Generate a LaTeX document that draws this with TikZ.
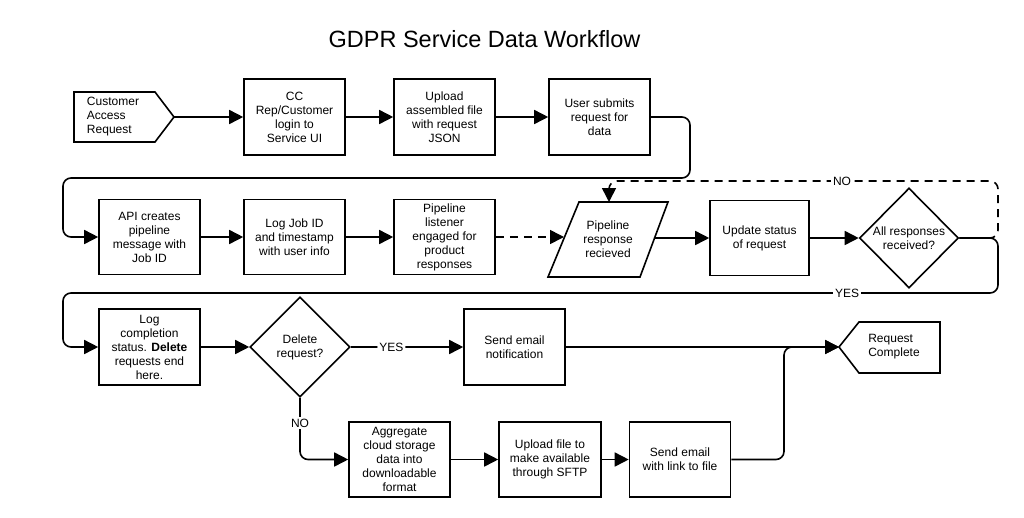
\documentclass[tikz,border=0pt]{standalone}
\usepackage{fontspec}
\setmainfont{Liberation Sans}
\usetikzlibrary{arrows.meta,shapes.geometric}
\begin{document}
\begin{tikzpicture}[x=1pt,y=-1pt,
  every node/.style={font=\fontsize{12}{14}\selectfont, align=center},
  box/.style={draw, line width=1.6pt, minimum width=101pt, minimum height=76pt, inner sep=0pt},
  dia/.style={draw, diamond, line width=1.6pt, inner sep=0pt, minimum width=99pt, minimum height=100pt},
  outline/.style={draw, line width=1.6pt, line join=miter},
  conn/.style={line width=1.6pt, rounded corners=8pt},
  arr/.style={conn, -{Triangle[length=14pt,width=14pt]}},
  dsh/.style={dash pattern=on 8pt off 6pt},
  lbl/.style={fill=white, inner sep=2pt},
]
\useasboundingbox (0,0) rectangle (1024,517);

\node (title) at (484.5,39) {\fontsize{23.5}{28}\selectfont GDPR Service Data Workflow};

% Row 1
\draw[outline] (74,92) -- (155,92) -- (174,117) -- (155,142) -- (74,142) -- cycle;
\node[align=left] (cust) at (113,117) {Customer\\Access\\Request};
\coordinate (custtip) at (174,117);
\node[box] (cc) at (294.5,117) {CC\\Rep/Customer\\login to\\Service UI};
\node[box] (up) at (444.5,117) {Upload\\assembled file\\with request\\JSON};
\node[box] (us) at (599.5,117) {User submits\\request for\\data};

% Row 2
\node[box, minimum height=75pt] (api) at (149.5,237) {API creates\\pipeline\\message with\\Job ID};
\node[box, minimum height=75pt] (logj) at (294.5,237) {Log Job ID\\and timestamp\\with user info};
\node[box, minimum height=75pt] (pl) at (444.5,237) {Pipeline\\listener\\engaged for\\product\\responses};
\draw[outline] (579,202) -- (668,202) -- (640,277) -- (548,277) -- cycle;
\node (pr) at (608,239.5) {Pipeline\\response\\recieved};
\coordinate (prin) at (564,237);
\coordinate (prout) at (654,238);
\coordinate (prtop) at (609,202);
\node[box, minimum width=99pt, minimum height=75pt] (upd) at (759.5,238) {Update status\\of request};
\node[dia] (allr) at (909,238) {All responses\\received?};

% Row 3
\node[box] (lc) at (149.5,347) {Log\\completion\\status. \textbf{Delete}\\requests end\\here.};
\node[dia, minimum width=100pt] (del) at (300,347) {Delete\\request?};
\node[box] (sen) at (514.5,347) {Send email\\notification};
\draw[outline] (859,322) -- (940,322) -- (940,373) -- (859,373) -- (839,347) -- cycle;
\node[align=left] (rc) at (894,347) {Request\\Complete};
\coordinate (rcin) at (839,347);

% Row 4
\node[box, minimum height=75pt] (agg) at (399.5,459.5) {Aggregate\\cloud storage\\data into\\downloadable\\format};
\node[box, minimum width=102pt, minimum height=75pt] (upf) at (550,459.5) {Upload file to\\make available\\through SFTP};
\node[box, minimum height=75pt] (sel) at (680,459.5) {Send email\\with link to file};

% Connectors row 1
\draw[arr] (custtip) -- (cc.west);
\draw[arr] (cc) -- (up);
\draw[arr] (up) -- (us);
\draw[arr] (us.east) -- (690,117) -- (690,178) -- (63,178) -- (63,237) -- (api.west);

% Connectors row 2
\draw[arr] (api) -- (logj);
\draw[arr] (logj) -- (pl);
\draw[arr, dsh] (pl.east) -- (prin);
\draw[arr] (prout) -- (upd.west);
\draw[arr] (upd) -- (allr);
\draw[arr, dsh] (allr.east) -- (998,238) -- (998,181) -- (609,181) -- (prtop);
\node[lbl] (nolbl) at (842,181) {NO};
\draw[arr] (allr.east) -- (998,238) -- (998,293) -- (63,293) -- (63,347) -- (lc.west);
\node[lbl] (yeslbl) at (847,293) {YES};

% Connectors row 3
\draw[arr] (lc) -- (del);
\draw[arr] (del) -- node[lbl, pos=0.36] {YES} (sen);
\draw[arr] (sen) -- (rcin);
\draw[arr] (del.south) -- (300,459.5) -- (agg.west);
\node[lbl] (nolbl2) at (300,423) {NO};

% Connectors row 4
\draw[arr] (agg) -- (upf);
\draw[arr] (upf) -- (sel);
\draw[arr] (sel.east) -- (784,459.5) -- (784,347) -- (rcin);
\end{tikzpicture}
\end{document}
